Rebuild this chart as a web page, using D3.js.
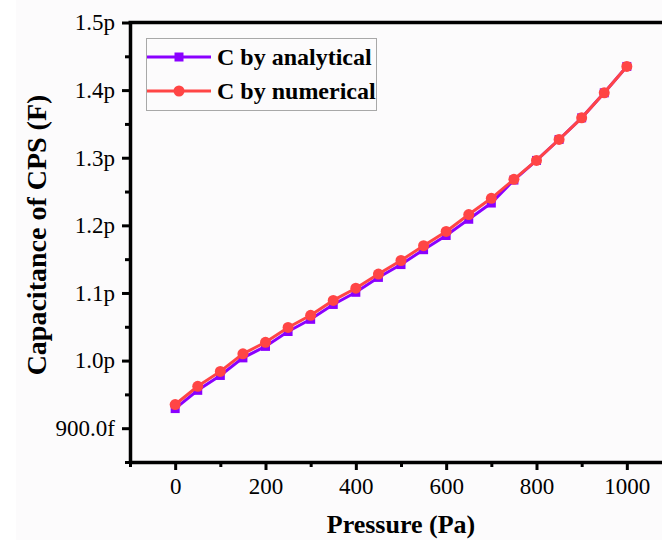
<!DOCTYPE html>
<html>
<head>
<meta charset="utf-8">
<script src="https://cdn.jsdelivr.net/npm/d3@7"></script>
<style>
  body { margin: 0; background: #ffffff; }
  svg { display: block; }
</style>
</head>
<body>
<svg id="chart" width="662" height="540"></svg>
<script>
// pressure in Pa
var pressure = [0, 50, 100, 150, 200, 250, 300, 350, 400, 450, 500,
                550, 600, 650, 700, 750, 800, 850, 900, 950, 1000];
// capacitance in pF
var analytical = [0.929, 0.956, 0.978, 1.004, 1.021, 1.043, 1.061, 1.083, 1.101, 1.123, 1.142,
                  1.164, 1.185, 1.209, 1.233, 1.267, 1.296, 1.327, 1.359, 1.396, 1.435];
var numerical  = [0.935, 0.962, 0.984, 1.010, 1.027, 1.049, 1.067, 1.089, 1.107, 1.128, 1.148,
                  1.170, 1.191, 1.216, 1.240, 1.268, 1.296, 1.327, 1.359, 1.396, 1.435];
var xTicks = [0, 200, 400, 600, 800, 1000];
var yTicks = [0.9, 1.0, 1.1, 1.2, 1.3, 1.4, 1.5];
var seriesNames = ["C by analytical", "C by numerical"];

var purple = "#8a00ff",
    red = "#ff4545",
    font = "'Liberation Serif', 'DejaVu Serif', serif";

var svg = d3.select("#chart");

svg.append("rect")
    .attr("x", 16).attr("y", 0)
    .attr("width", 646).attr("height", 540)
    .attr("fill", "#fcfbfc");

var xScale = d3.scaleLinear()
    .domain([-100, 1100])
    .range([130, 672]);

var yScale = d3.scaleLinear()
    .domain([0.85, 1.5])
    .range([462, 22.5]);

var minorX = d3.range(-100, 1101, 100).filter(function(d){ return xTicks.indexOf(d) < 0; });
var minorY = d3.range(0.85, 1.5, 0.1).map(function(d){ return +d.toFixed(2); });

// minor ticks
svg.append("g")
    .attr("transform", "translate(0,462)")
    .call(d3.axisBottom(xScale).tickValues(minorX).tickSize(5).tickFormat(""))
    .call(function(g){ g.select(".domain").remove(); })
    .selectAll("line").attr("stroke", "#000").attr("stroke-width", 3);

svg.append("g")
    .attr("transform", "translate(130,0)")
    .call(d3.axisLeft(yScale).tickValues(minorY).tickSize(5).tickFormat(""))
    .call(function(g){ g.select(".domain").remove(); })
    .selectAll("line").attr("stroke", "#000").attr("stroke-width", 3);

// major axes
var xAxis = svg.append("g")
    .attr("transform", "translate(0,462)")
    .call(d3.axisBottom(xScale).tickValues(xTicks).tickSize(8).tickSizeOuter(0).tickPadding(8)
      .tickFormat(d3.format("d")));

var yAxis = svg.append("g")
    .attr("transform", "translate(130,0)")
    .call(d3.axisLeft(yScale).tickValues(yTicks).tickSize(8).tickSizeOuter(0).tickPadding(7)
      .tickFormat(function(d){
        return d < 1 ? (d * 1000).toFixed(1) + "f" : d.toFixed(1) + "p";
      }));

[xAxis, yAxis].forEach(function(g){
  g.select(".domain").attr("stroke", "#000").attr("stroke-width", 3.5);
  g.selectAll(".tick line").attr("stroke", "#000").attr("stroke-width", 3);
  g.selectAll(".tick text")
      .attr("fill", "#000")
      .style("font-family", font)
      .style("font-size", "23px");
});

// top frame line
svg.append("line")
    .attr("x1", 128.5).attr("x2", 662)
    .attr("y1", yScale(1.5)).attr("y2", yScale(1.5))
    .attr("stroke", "#000")
    .attr("stroke-width", 3.5);

// series
var line = d3.line()
    .x(function(d){ return xScale(d[0]); })
    .y(function(d){ return yScale(d[1]); });

var anData = pressure.map(function(p, i){ return [p, analytical[i]]; });
var nuData = pressure.map(function(p, i){ return [p, numerical[i]]; });

svg.append("path")
    .datum(anData)
    .attr("fill", "none")
    .attr("stroke", purple)
    .attr("stroke-width", 3)
    .attr("d", line);

svg.selectAll(".sq")
    .data(anData)
    .enter()
    .append("rect")
    .attr("class", "sq")
    .attr("x", function(d){ return xScale(d[0]) - 4.5; })
    .attr("y", function(d){ return yScale(d[1]) - 4.5; })
    .attr("width", 9)
    .attr("height", 9)
    .attr("fill", purple);

svg.append("path")
    .datum(nuData)
    .attr("fill", "none")
    .attr("stroke", red)
    .attr("stroke-width", 3)
    .attr("d", line);

svg.selectAll(".dot")
    .data(nuData)
    .enter()
    .append("circle")
    .attr("class", "dot")
    .attr("cx", function(d){ return xScale(d[0]); })
    .attr("cy", function(d){ return yScale(d[1]); })
    .attr("r", 5.5)
    .attr("fill", red);

// axis titles
svg.append("text")
    .attr("x", 401)
    .attr("y", 533)
    .attr("text-anchor", "middle")
    .style("font-family", font)
    .style("font-size", "26px")
    .style("font-weight", "bold")
    .text("Pressure (Pa)");

svg.append("text")
    .attr("transform", "translate(46,235) rotate(-90)")
    .attr("text-anchor", "middle")
    .style("font-family", font)
    .style("font-size", "28px")
    .style("font-weight", "bold")
    .text("Capacitance of CPS (F)");

// legend
var legend = svg.append("g");

legend.append("rect")
    .attr("x", 146.5).attr("y", 38.5)
    .attr("width", 230).attr("height", 72)
    .attr("fill", "#fcfbfc")
    .attr("stroke", "#a8a8a8")
    .attr("stroke-width", 1);

var legendRows = legend.selectAll(".row")
    .data(seriesNames)
    .enter()
    .append("g")
    .attr("class", "row")
    .attr("transform", function(d, i){ return "translate(0," + (57 + i * 34) + ")"; });

legendRows.append("line")
    .attr("x1", 147).attr("x2", 211)
    .attr("y1", 0).attr("y2", 0)
    .attr("stroke", function(d, i){ return i === 0 ? purple : red; })
    .attr("stroke-width", 3);

legendRows.filter(function(d, i){ return i === 0; })
    .append("rect")
    .attr("x", 174.5).attr("y", -4.5)
    .attr("width", 9).attr("height", 9)
    .attr("fill", purple);

legendRows.filter(function(d, i){ return i === 1; })
    .append("circle")
    .attr("cx", 179).attr("cy", 0)
    .attr("r", 5.5)
    .attr("fill", red);

legendRows.append("text")
    .attr("x", 217)
    .attr("y", 8)
    .style("font-family", font)
    .style("font-size", "24px")
    .style("font-weight", "bold")
    .text(function(d){ return d; });
</script>
</body>
</html>
